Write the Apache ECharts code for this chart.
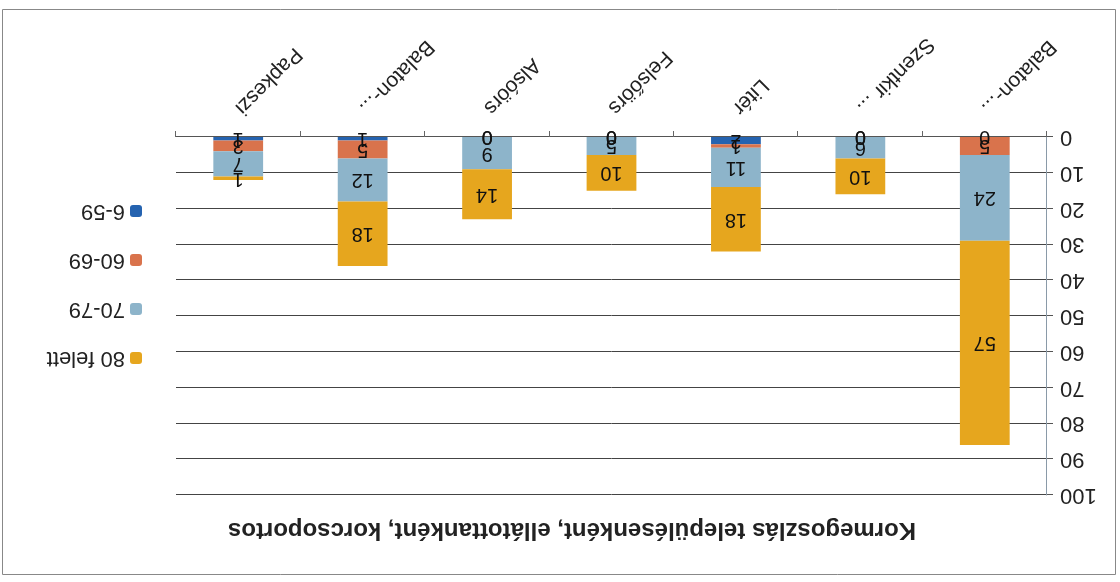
<!DOCTYPE html>
<html>
<head>
<meta charset="utf-8">
<script src="https://cdn.jsdelivr.net/npm/echarts@6/dist/echarts.min.js"></script>
<style>
html,body{margin:0;padding:0;background:#fff;}
#wrap{width:1120px;height:582px;transform:rotate(180deg);transform-origin:50% 50%;}
#chart{width:1120px;height:582px;}
</style>
</head>
<body>
<div id="wrap"><div id="chart"></div></div>
<script>
const categories = ['Balaton-...', 'Szentkir ...', 'Litér', 'Felsőörs', 'Alsóörs', 'Balaton-...', 'Papkeszi'];
const s6_59   = [0, 0, 2, 0, 0, 1, 1];
const s60_69  = [5, 0, 1, 0, 0, 5, 3];
const s70_79  = [24, 6, 11, 5, 9, 12, 7];
const s80     = [57, 10, 18, 10, 14, 18, 1];
const yTicks  = [0, 10, 20, 30, 40, 50, 60, 70, 80, 90, 100];
const titleText = 'Kormegoszlás településenként, ellátottanként, korcsoportos';

const font = 'Liberation Sans, Arial, sans-serif';
function mk(name, data, color) {
  return {
    name: name, type: 'bar', stack: 'total', data: data, barWidth: '40%',
    itemStyle: { color: color },
    label: { show: true, position: 'inside', color: '#111', fontSize: 20, fontFamily: font }
  };
}
const chart = echarts.init(document.getElementById('chart'), null, { renderer: 'canvas' });
chart.setOption({
  animation: false,
  backgroundColor: '#fff',
  title: {
    text: titleText, left: 543, top: 35, textAlign: 'center',
    textStyle: { fontSize: 24, fontWeight: 'bold', color: '#222', fontFamily: font }
  },
  legend: {
    orient: 'vertical', left: 973, top: 208, itemGap: 27, itemWidth: 12, itemHeight: 12,
    data: ['80 felett', '70-79', '60-69', '6-59'],
    textStyle: { fontSize: 22, color: '#222', fontFamily: font }
  },
  grid: { left: 73, right: 176, top: 87, bottom: 137, containLabel: false },
  graphic: [{
    type: 'rect', left: 2, top: 5, shape: { width: 1113, height: 565 },
    style: { fill: 'none', stroke: '#888', lineWidth: 1 }, silent: true
  }],
  xAxis: {
    type: 'category', data: categories,
    axisLine: { lineStyle: { color: '#555' } },
    axisTick: { show: true, length: 6, lineStyle: { color: '#666' } },
    axisLabel: { rotate: 45, fontSize: 21, color: '#222', fontFamily: font, margin: 26 }
  },
  yAxis: {
    type: 'value', min: 0, max: 100, interval: 10,
    axisLine: { show: true, lineStyle: { color: '#8a9aa8' } },
    axisTick: { show: true, length: 6, lineStyle: { color: '#555' } },
    axisLabel: { fontSize: 22, color: '#222', fontFamily: font, margin: 13,
      formatter: function (v) { return yTicks.indexOf(v) >= 0 ? String(v) : ''; } },
    splitLine: { lineStyle: { color: '#444', width: 1 } }
  },
  series: [
    mk('6-59', s6_59, '#2563b0'),
    mk('60-69', s60_69, '#d9734c'),
    mk('70-79', s70_79, '#8db4ca'),
    mk('80 felett', s80, '#e6a61e')
  ]
});
</script>
</body>
</html>
